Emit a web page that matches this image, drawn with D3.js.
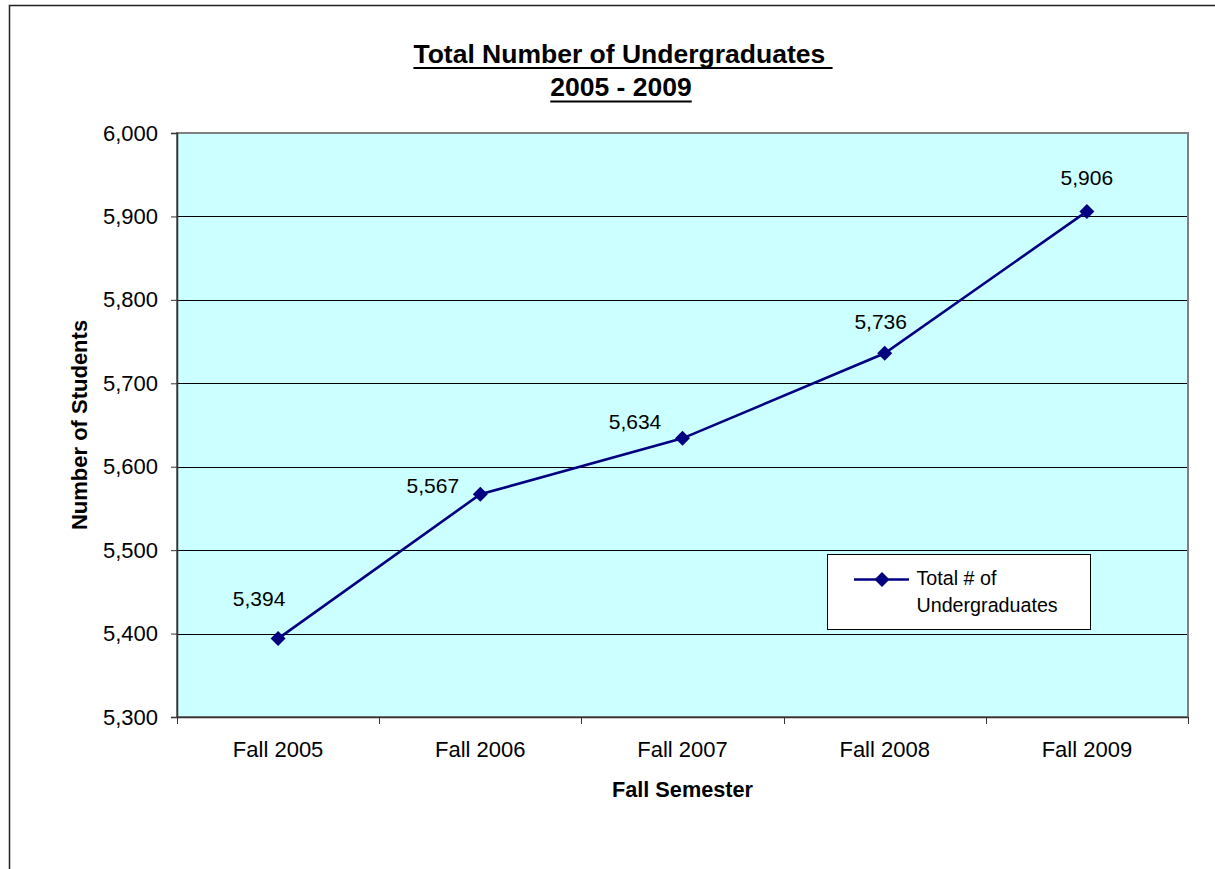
<!DOCTYPE html>
<html><head><meta charset="utf-8">
<script src="https://cdn.jsdelivr.net/npm/d3@7"></script>
<style>body{margin:0;background:#fff;} text{font-family:"Liberation Sans",Arial,sans-serif;}</style>
</head><body>
<svg id="c" width="1215" height="869"></svg>
<script>
const categories = ["Fall 2005","Fall 2006","Fall 2007","Fall 2008","Fall 2009"];
const values = [5394,5567,5634,5736,5906];
const yTicks = [5300,5400,5500,5600,5700,5800,5900,6000];
const seriesName = ["Total # of","Undergraduates"];
const titleLines = ["Total Number of Undergraduates ","2005 - 2009"];

const FONT = "Liberation Sans, Arial, sans-serif";
const svg = d3.select("#c");
const L=177,R=1188,T=133,B=717;

svg.append("rect").attr("x",9.5).attr("y",5.5).attr("width",1220).attr("height",880)
  .attr("fill","#fff").attr("stroke","#222").attr("stroke-width",1.5);

const x = d3.scaleBand().domain(categories).range([L,R]).padding(0);
const y = d3.scaleLinear().domain([5300,6000]).range([B,T]);

svg.append("rect").attr("x",L).attr("y",T).attr("width",R-L).attr("height",B-T).attr("fill","#CCFFFF");

// gridlines
svg.append("g").selectAll("line").data(yTicks.slice(1,-1)).join("line")
  .attr("x1",L).attr("x2",R).attr("y1",d=>Math.round(y(d))+0.5).attr("y2",d=>Math.round(y(d))+0.5)
  .attr("stroke","#000").attr("stroke-width",1);

// plot border
svg.append("rect").attr("x",L).attr("y",T).attr("width",R-L).attr("height",B-T)
  .attr("fill","none").attr("stroke","#808080").attr("stroke-width",2);

// y axis
const ya = svg.append("g").attr("transform",`translate(${L},0)`)
  .call(d3.axisLeft(y).tickValues(yTicks).tickFormat(d3.format(",")).tickSize(6).tickPadding(13));
ya.attr("font-size",22).attr("font-family",FONT);
ya.select(".domain").attr("stroke","#333").attr("stroke-width",1.5);
ya.selectAll(".tick line").attr("stroke","#333");
ya.selectAll("text").attr("fill","#000");

// x axis
const xa = svg.append("g").attr("transform",`translate(0,${B})`)
  .call(d3.axisBottom(x).tickSize(0).tickPadding(24));
xa.attr("font-size",22).attr("font-family",FONT);
xa.select(".domain").attr("stroke","#333").attr("stroke-width",1.5);
xa.selectAll("text").attr("fill","#000");
// category boundary ticks
const bounds = categories.map(c=>x(c)).concat([x(categories[categories.length-1])+x.bandwidth()]);
svg.append("g").selectAll("line").data(bounds).join("line")
  .attr("x1",d=>Math.round(d)+0.5).attr("x2",d=>Math.round(d)+0.5).attr("y1",B).attr("y2",B+7).attr("stroke","#333").attr("stroke-width",1);

const cx = c=>x(c)+x.bandwidth()/2;
const line = d3.line().x((d,i)=>cx(categories[i])).y(d=>y(d));
svg.append("path").datum(values).attr("d",line).attr("fill","none").attr("stroke","#000080").attr("stroke-width",2.6);

svg.append("g").selectAll("path").data(values).join("path")
  .attr("d",d3.symbol().type(d3.symbolSquare).size(112))
  .attr("transform",(d,i)=>`translate(${cx(categories[i])},${y(d)}) rotate(45)`)
  .attr("fill","#000080");

// data labels
const labelDx = [-19,-47.5,-47.5,-4,0];
const labelDy = [-33,-1,-9,-24,-26];
svg.append("g").selectAll("text").data(values).join("text")
  .attr("x",(d,i)=>cx(categories[i])+labelDx[i]).attr("y",(d,i)=>y(d)+labelDy[i])
  .attr("text-anchor","middle").attr("font-size",21).attr("fill","#000")
  .text(d3.format(","));

// title with manual underline
const tg = svg.append("g");
const tt = tg.selectAll("text").data(titleLines).join("text")
  .attr("x",(d,i)=>i===0?623:621).attr("y",(d,i)=>62.5+i*33.5).attr("text-anchor","middle")
  .attr("font-size",26.5).attr("font-weight","bold")
  .attr("xml:space","preserve").style("white-space","pre").text(d=>d);
tt.each(function(d,i){
  const w = this.getComputedTextLength();
  const x0 = +this.getAttribute("x") - w/2;
  const yb = +this.getAttribute("y") + 5.5;
  tg.append("line").attr("x1",x0).attr("x2",x0+w).attr("y1",yb).attr("y2",yb)
    .attr("stroke","#000").attr("stroke-width",2);
});

// axis titles
svg.append("text").attr("transform",`translate(86.5,${(T+B)/2}) rotate(-90)`).attr("text-anchor","middle")
  .attr("font-size",22).attr("font-weight","bold").text("Number of Students");
svg.append("text").attr("x",(L+R)/2).attr("y",796.5).attr("text-anchor","middle")
  .attr("font-size",21.7).attr("font-weight","bold").text("Fall Semester");

// legend
const lg = svg.append("g");
lg.append("rect").attr("x",827.5).attr("y",554.5).attr("width",263).attr("height",75)
  .attr("fill","#fff").attr("stroke","#000").attr("stroke-width",1);
lg.append("line").attr("x1",854).attr("x2",909).attr("y1",579.5).attr("y2",579.5).attr("stroke","#000080").attr("stroke-width",2.6);
lg.append("path").attr("d",d3.symbol().type(d3.symbolSquare).size(112)).attr("transform","translate(882,579.5) rotate(45)").attr("fill","#000080");
lg.selectAll("text.l").data(seriesName).join("text").attr("class","l")
  .attr("x",916.5).attr("y",(d,i)=>585+i*26.7).attr("font-size",19.7).text(d=>d);
</script>
</body></html>
